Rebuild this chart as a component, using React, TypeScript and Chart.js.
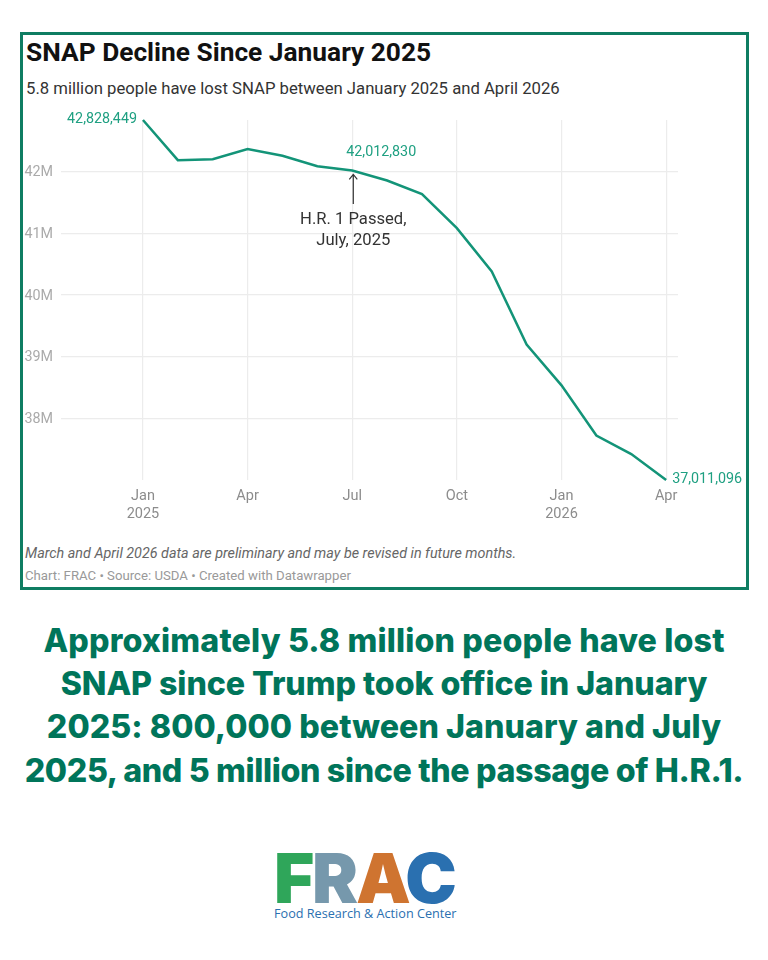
import React, { useEffect, useRef } from "react";
import { Chart, registerables } from "chart.js";

Chart.register(...registerables);

const monthIndex = [0, 1, 2, 3, 4, 5, 6, 7, 8, 9, 10, 11, 12, 13, 14, 15];
const participants = [
  42828449, 42180000, 42195000, 42360000, 42250000, 42080000, 42012830, 41850000,
  41630000, 41080000, 40380000, 39200000, 38540000, 37730000, 37430000, 37011096,
];
const xTickIndex = [0, 3, 6, 9, 12, 15];
const xTickLabels: (string | string[])[] = [["Jan", "2025"], "Apr", "Jul", "Oct", ["Jan", "2026"], "Apr"];
const yTicks = [38000000, 39000000, 40000000, 41000000, 42000000];
const headlineLines = [
  "Approximately 5.8 million people have lost",
  "SNAP since Trump took office in January",
  "2025: 800,000 between January and July",
  "2025, and 5 million since the passage of H.R.1.",
];
const headlineSpacing = [0.14, -0.08, 0.04, -0.36];
const annotationLines = ["H.R. 1 Passed,", "July, 2025"];
const arrowFrom = { x: 6.03, y: 41470000 };
const arrowTo = { x: 6.03, y: 41950000 };

const LINE = "#139478";
const LABEL = "#1fa082";
const GRID = "#ececec";
const FONT = "Roboto";

const labelsPlugin = {
  id: "labels",
  afterDatasetsDraw(chart: any) {
    const { ctx, scales } = chart;
    const sx = scales.x;
    const sy = scales.y;
    const fmt = (v: number) => v.toLocaleString("en-US");
    ctx.save();
    ctx.font = `14.3px ${FONT}`;
    ctx.fillStyle = LABEL;
    ctx.textBaseline = "middle";
    ctx.textAlign = "right";
    ctx.fillText(fmt(participants[0]), sx.getPixelForValue(0) - 6, sy.getPixelForValue(participants[0]) - 1);
    ctx.textAlign = "center";
    ctx.fillText(fmt(participants[6]), sx.getPixelForValue(6) + 29, sy.getPixelForValue(participants[6]) - 18);
    ctx.textAlign = "left";
    ctx.fillText(fmt(participants[15]), sx.getPixelForValue(15) + 6, sy.getPixelForValue(participants[15]) - 1);

    const ax = sx.getPixelForValue(arrowFrom.x);
    const y0 = sy.getPixelForValue(arrowFrom.y);
    const y1 = sy.getPixelForValue(arrowTo.y);
    ctx.strokeStyle = "#333";
    ctx.lineWidth = 1.2;
    ctx.beginPath();
    ctx.moveTo(ax, y0);
    ctx.lineTo(ax, y1);
    ctx.moveTo(ax - 4, y1 + 5);
    ctx.lineTo(ax, y1);
    ctx.lineTo(ax + 4, y1 + 5);
    ctx.stroke();

    ctx.fillStyle = "#333";
    ctx.textAlign = "center";
    ctx.font = `16.6px ${FONT}`;
    annotationLines.forEach((t, i) => ctx.fillText(t, ax, y0 + 16 + i * 21));
    ctx.restore();
  },
};

export default function App() {
  const ref = useRef<HTMLCanvasElement>(null);
  useEffect(() => {
    const chart = new Chart(ref.current!, {
      type: "line",
      data: {
        datasets: [
          {
            data: monthIndex.map((m, i) => ({ x: m, y: participants[i] })),
            borderColor: LINE,
            borderWidth: 2.5,
            pointRadius: 0,
            tension: 0,
            clip: false,
          } as any,
        ],
      },
      options: {
        responsive: false,
        animation: false,
        layout: { padding: { top: 20, right: 68, bottom: 0, left: 0 } },
        plugins: { legend: { display: false }, tooltip: { enabled: false } },
        scales: {
          x: {
            type: "linear",
            min: -2.35,
            max: 15.34,
            afterBuildTicks: (a: any) => {
              a.ticks = xTickIndex.map((value) => ({ value }));
            },
            afterFit: (a: any) => {
              a.height = 50;
            },
            grid: { color: GRID, lineWidth: 1.2, drawTicks: false },
            border: { display: false },
            ticks: {
              autoSkip: false,
              maxRotation: 0,
              padding: 7,
              color: "#8c8c8c",
              font: { family: FONT, size: 14.5, lineHeight: "18px" as any },
              callback: (v: any) => xTickLabels[xTickIndex.indexOf(Number(v))],
            },
          },
          y: {
            type: "linear",
            min: participants[15],
            max: participants[0],
            afterBuildTicks: (a: any) => {
              a.ticks = yTicks.map((value) => ({ value }));
            },
            afterFit: (a: any) => {
              a.width = 39;
            },
            grid: { color: GRID, lineWidth: 1.2, drawTicks: false },
            border: { display: false },
            ticks: {
              padding: 8,
              labelOffset: 1,
              color: "#aaa",
              font: { family: FONT, size: 14.3 },
              callback: (v: any) => `${Number(v) / 1000000}M`,
            },
          },
        },
      } as any,
      plugins: [labelsPlugin as any],
    });
    return () => chart.destroy();
  }, []);

  const abs = (o: React.CSSProperties): React.CSSProperties => ({ position: "absolute", whiteSpace: "nowrap", ...o });

  return (
    <div style={{ position: "absolute", left: 0, top: 0, width: 768, height: 960, background: "#fff", overflow: "hidden" }}>
      <div style={abs({ left: 20, top: 32, width: 723, height: 552, border: "3px solid #0f7d62" })} />
      <div style={abs({ left: 26, top: 38, fontFamily: FONT, fontWeight: 700, fontSize: 26.3, lineHeight: "28px", color: "#111" })}>
        SNAP Decline Since January 2025
      </div>
      <div style={abs({ left: 26, top: 79, fontFamily: FONT, fontSize: 16.7, lineHeight: "20px", color: "#333" })}>
        5.8 million people have lost SNAP between January 2025 and April 2026
      </div>
      <canvas ref={ref} width={724} height={430} style={{ position: "absolute", left: 22, top: 100, width: 724, height: 430 }} />
      <div style={abs({ left: 25, top: 545, fontFamily: FONT, fontStyle: "italic", fontSize: 14.35, lineHeight: "17px", color: "#666" })}>
        March and April 2026 data are preliminary and may be revised in future months.
      </div>
      <div style={abs({ left: 25, top: 568, fontFamily: FONT, fontSize: 13.2, lineHeight: "15px", color: "#999" })}>
        Chart: FRAC • Source: USDA • Created with Datawrapper
      </div>
      <div style={abs({ left: 0, width: 768, top: 619, textAlign: "center", fontFamily: "Inter", fontWeight: 800, fontSize: 32.2, lineHeight: "43.2px", color: "#00755a" })}>
        {headlineLines.map((l, i) => (
          <div key={l} style={{ letterSpacing: headlineSpacing[i] }}>{l}</div>
        ))}
      </div>
      <div style={abs({ left: 274, top: 836, fontFamily: "Inter", fontWeight: 900, fontSize: 69, lineHeight: "84px", letterSpacing: -2.2 })}>
        <span style={{ color: "#2fa65a" }}>F</span>
        <span style={{ color: "#7698ac" }}>R</span>
        <span style={{ color: "#cf7430" }}>A</span>
        <span style={{ color: "#2a70b0" }}>C</span>
      </div>
      <div style={abs({ left: 274, top: 906, fontFamily: "Open Sans", fontSize: 12.65, lineHeight: "15px", color: "#2a70b0" })}>
        Food Research &amp; Action Center
      </div>
    </div>
  );
}
